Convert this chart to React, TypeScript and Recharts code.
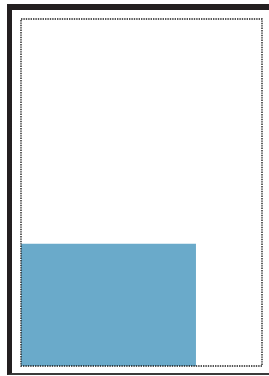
import { Area, AreaChart, ReferenceArea, XAxis, YAxis } from "recharts";

// share along x, value along y (both fractions of the full frame)
const shares = [0, 0.726];
const values = [0.352, 0.352];
const frame = [0, 1];

const data = shares.map((x, i) => ({ x, y: values[i] }));

export default function App() {
  return (
    <div
      style={{
        position: "absolute",
        left: 7,
        top: 4,
        width: 262,
        height: 371,
        boxSizing: "border-box",
        borderLeft: "5px solid #231f20",
        borderTop: "6px solid #231f20",
        borderBottom: "2px solid #3a3a3a",
        background: "#fff",
      }}
    >
      <AreaChart
        width={257}
        height={363}
        data={data}
        margin={{ top: 9, right: 7, bottom: 7, left: 9 }}
      >
        <XAxis dataKey="x" type="number" domain={frame} hide />
        <YAxis type="number" domain={frame} hide />
        <Area
          type="linear"
          dataKey="y"
          stroke="none"
          fill="#6aaaca"
          fillOpacity={1}
          isAnimationActive={false}
        />
        <ReferenceArea
          x1={frame[0]}
          x2={frame[1]}
          y1={frame[0]}
          y2={frame[1]}
          fill="none"
          stroke="#1e1e1e"
          strokeWidth={1.4}
          strokeDasharray="1.4 1"
          ifOverflow="extendDomain"
        />
      </AreaChart>
    </div>
  );
}
